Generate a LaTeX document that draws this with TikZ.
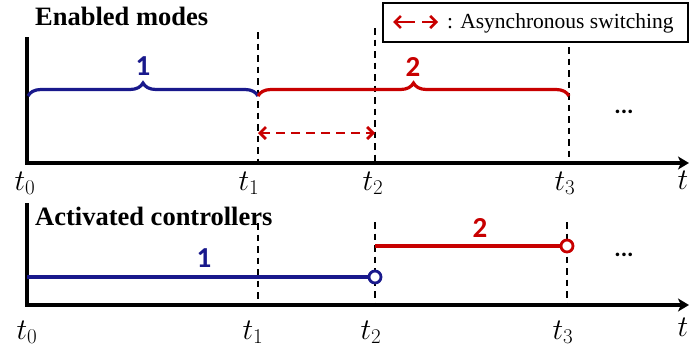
\RequirePackage{fix-cm}
\documentclass[tikz,border=0pt]{standalone}
\usepackage[no-math]{fontspec}
\setmainfont{Liberation Serif}
\newfontfamily\numfont{Carlito}
\usetikzlibrary{arrows.meta,decorations.pathreplacing}
\definecolor{modeblue}{RGB}{25,25,140}
\definecolor{modered}{RGB}{200,0,0}
\begin{document}
\begin{tikzpicture}[x=1pt,y=-1pt,
  axisline/.style={line width=3.6pt,line join=miter,-{Stealth[length=11pt,width=13pt,inset=3pt]}},
  guide/.style={line width=1.9pt,dash pattern=on 6.5pt off 5pt},
  modebrace/.style={line width=3.2pt,decorate,decoration={brace,amplitude=13pt,aspect=0.5}},
  asyncarrow/.style={modered,line width=2.8pt,dash pattern=on 9pt off 6pt,
    {Straight Barb[length=6pt,width=12pt]}-{Straight Barb[length=6pt,width=12pt]}},
  ctrlline/.style={line width=3.2pt},
  endmark/.style={circle,draw,fill=white,line width=2.8pt,inner sep=0pt,minimum size=12pt},
  tlabel/.style={anchor=base,inner sep=0pt,font=\fontsize{30}{34}\selectfont},
  title/.style={anchor=base west,inner sep=0pt,font=\fontsize{26.5}{30}\selectfont\bfseries},
  modenum/.style={inner sep=0pt,font=\fontsize{29}{32}\selectfont\numfont\bfseries},
  dots/.style={inner sep=0pt,font=\fontsize{24}{26}\selectfont\numfont\bfseries},
]
\useasboundingbox (0,0) rectangle (689,351);

% ---------- upper panel: enabled modes ----------
\node[title] (titleA) at (35,25) {Enabled modes};
\coordinate (A0top) at (27,37);
\coordinate (A0) at (27,163);
\coordinate (Aend) at (689,163);
\draw[axisline] (A0top) -- (A0) -- (Aend);

\coordinate (A1top) at (258,32);  \coordinate (A1) at (258,163);
\coordinate (A2top) at (375,28);  \coordinate (A2) at (375,163);
\coordinate (A3top) at (569,47);  \coordinate (A3) at (569,163);
\draw[guide] (A1top) -- (A1);
\draw[guide] (A2top) -- (A2);
\draw[guide] (A3top) -- (A3);

\coordinate (B1s) at (28,96);   \coordinate (B1e) at (258,96);
\coordinate (B2s) at (258,96);  \coordinate (B2e) at (569,96);
\draw[modebrace,modeblue] (B1s) -- (B1e);
\draw[modebrace,modered] (B2s) -- (B2e);
\node[modenum,text=modeblue] (m1) at (143,66) {1};
\node[modenum,text=modered] (m2) at (413,67) {2};

\coordinate (S1) at (258,133);  \coordinate (S2) at (375,133);
\draw[asyncarrow] (S1) -- (S2);
\node[dots] (dotsA) at (624,112) {...};

\node[tlabel] (lA0) at (25,190) {$t_0$};
\node[tlabel] (lA1) at (249,190) {$t_1$};
\node[tlabel] (lA2) at (373,190) {$t_2$};
\node[tlabel] (lA3) at (565,190) {$t_3$};
\node[tlabel] (lAt) at (683,189) {$t$};

% ---------- legend ----------
\node[draw,line width=1.8pt,minimum width=305pt,minimum height=39pt,inner sep=0pt] (legend) at (535.5,22.5) {};
\coordinate (L1) at (393,22);  \coordinate (L2) at (438,22);
\draw[modered,line width=2.6pt,dash pattern=on 19pt off 7pt,
  {Straight Barb[length=6pt,width=12pt]}-{Straight Barb[length=6pt,width=12pt]}] (L1) -- (L2);
\node[anchor=base west,inner sep=0pt,font=\fontsize{21.5}{24}\selectfont] (legtext) at (447,28) {: Asynchronous switching};

% ---------- lower panel: activated controllers ----------
\node[title] (titleB) at (35,225) {Activated controllers};
\coordinate (C0top) at (27,203);
\coordinate (C0) at (27,305);
\coordinate (Cend) at (689,305);
\draw[axisline] (C0top) -- (C0) -- (Cend);

\coordinate (C1top) at (258,223);  \coordinate (C1) at (258,305);
\coordinate (C2top) at (375,222);  \coordinate (C2) at (375,305);
\coordinate (C3top) at (567,222);  \coordinate (C3) at (567,305);
\draw[guide] (C1top) -- (C1);
\draw[guide] (C2top) -- (C2);
\draw[guide] (C3top) -- (C3);

\coordinate (K1s) at (27,277);
\node[endmark,draw=modeblue] (K1e) at (375,277) {};
\draw[ctrlline,modeblue] (K1s) -- (K1e);
\coordinate (K2s) at (375,246);
\node[endmark,draw=modered] (K2e) at (567,246) {};
\draw[ctrlline,modered] (K2s) -- (K2e);
\node[modenum,text=modeblue] (c1) at (204,258) {1};
\node[modenum,text=modered] (c2) at (480,228) {2};
\node[dots] (dotsB) at (624,255) {...};

\node[tlabel] (lC0) at (27,339) {$t_0$};
\node[tlabel] (lC1) at (253,339) {$t_1$};
\node[tlabel] (lC2) at (371,339) {$t_2$};
\node[tlabel] (lC3) at (563,339) {$t_3$};
\node[tlabel] (lCt) at (683,336) {$t$};
\end{tikzpicture}
\end{document}
